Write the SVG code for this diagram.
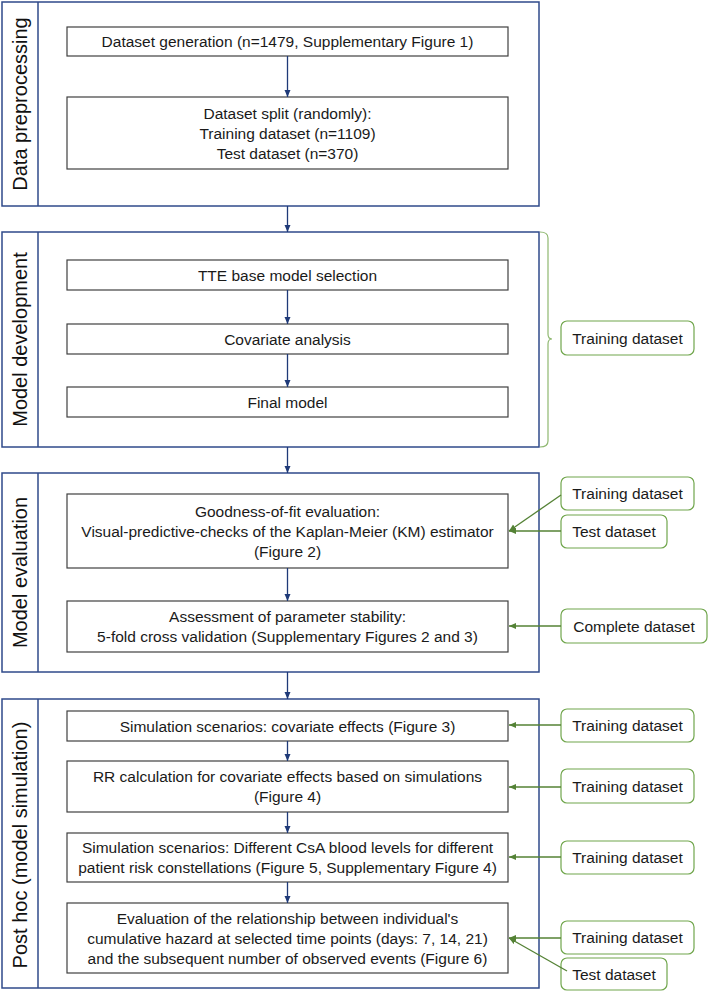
<svg xmlns="http://www.w3.org/2000/svg" width="709" height="992" viewBox="0 0 709 992">
<defs>
<marker id="ab" markerUnits="userSpaceOnUse" markerWidth="8" markerHeight="8" refX="7" refY="4" orient="auto"><path d="M0,1 L7,4 L0,7 z" fill="#1f3a78"/></marker>
<marker id="ag" markerUnits="userSpaceOnUse" markerWidth="8" markerHeight="8" refX="7" refY="4" orient="auto"><path d="M0,1 L7,4 L0,7 z" fill="#548235"/></marker>
</defs>
<style>
.sec{fill:none;stroke:#2f4a8a;stroke-width:1.5}
.box{fill:#fff;stroke:#404040;stroke-width:1.2}
.gbox{fill:#fff;stroke:#70a64c;stroke-width:1.2}
.t{font-family:"Liberation Sans",Arial,sans-serif;font-size:15.5px;fill:#1a1a1a;text-anchor:middle}
.lab{font-family:"Liberation Sans",Arial,sans-serif;font-size:20px;fill:#111;text-anchor:middle}
.ba{stroke:#1f3a78;stroke-width:1.3;fill:none;marker-end:url(#ab)}
.ga{stroke:#548235;stroke-width:1.3;fill:none;marker-end:url(#ag)}
</style>
<rect width="709" height="992" fill="#fff"/>

<g id="sec-preprocessing">
<rect class="sec" x="2" y="2" width="537" height="204"/>
<line class="sec" x1="38" y1="2" x2="38" y2="206"/>
<text class="lab" transform="translate(27,104) rotate(-90)">Data preprocessing</text>
</g>
<g id="n-generation">
<rect class="box" x="67" y="27" width="441" height="29"/>
<text class="t" x="287.5" y="47">Dataset generation (n=1479, Supplementary Figure 1)</text>
</g>
<g id="n-split">
<rect class="box" x="67" y="97" width="441" height="72"/>
<text class="t" x="287.5" y="118.5">Dataset split (randomly):</text>
<text class="t" x="287.5" y="138.5">Training dataset (n=1109)</text>
<text class="t" x="287.5" y="158.5">Test dataset (n=370)</text>
</g>

<g id="sec-development">
<rect class="sec" x="2" y="232" width="537" height="215"/>
<line class="sec" x1="38" y1="232" x2="38" y2="447"/>
<text class="lab" transform="translate(27,339.5) rotate(-90)">Model development</text>
</g>
<g id="n-tte">
<rect class="box" x="67" y="260" width="441" height="30"/>
<text class="t" x="287.5" y="280.5">TTE base model selection</text>
</g>
<g id="n-covariate">
<rect class="box" x="67" y="324" width="441" height="30"/>
<text class="t" x="287.5" y="344.5">Covariate analysis</text>
</g>
<g id="n-final">
<rect class="box" x="67" y="387" width="441" height="30"/>
<text class="t" x="287.5" y="407.5">Final model</text>
</g>

<g id="sec-evaluation">
<rect class="sec" x="2" y="473" width="537" height="199"/>
<line class="sec" x1="38" y1="473" x2="38" y2="672"/>
<text class="lab" transform="translate(27,572.5) rotate(-90)">Model evaluation</text>
</g>
<g id="n-gof">
<rect class="box" x="67" y="494" width="441" height="74"/>
<text class="t" x="287.5" y="516.5">Goodness-of-fit evaluation:</text>
<text class="t" x="287.5" y="536.5">Visual-predictive-checks of the Kaplan-Meier (KM) estimator</text>
<text class="t" x="287.5" y="556.5">(Figure 2)</text>
</g>
<g id="n-stability">
<rect class="box" x="67" y="601" width="441" height="51"/>
<text class="t" x="287.5" y="622">Assessment of parameter stability:</text>
<text class="t" x="287.5" y="642">5-fold cross validation (Supplementary Figures 2 and 3)</text>
</g>

<g id="sec-posthoc">
<rect class="sec" x="2" y="699" width="537" height="289"/>
<line class="sec" x1="38" y1="699" x2="38" y2="988"/>
<text class="lab" transform="translate(27,845) rotate(-90)">Post hoc (model simulation)</text>
</g>
<g id="n-sim1">
<rect class="box" x="67" y="711" width="441" height="30"/>
<text class="t" x="287.5" y="731.5">Simulation scenarios: covariate effects (Figure 3)</text>
</g>
<g id="n-rr">
<rect class="box" x="67" y="761" width="441" height="51"/>
<text class="t" x="287.5" y="782">RR calculation for covariate effects based on simulations</text>
<text class="t" x="287.5" y="802">(Figure 4)</text>
</g>
<g id="n-sim2">
<rect class="box" x="67" y="833" width="441" height="49"/>
<text class="t" x="287.5" y="853">Simulation scenarios: Different CsA blood levels for different</text>
<text class="t" x="287.5" y="873">patient risk constellations (Figure 5, Supplementary Figure 4)</text>
</g>
<g id="n-eval">
<rect class="box" x="67" y="903" width="441" height="70"/>
<text class="t" x="287.5" y="923.5">Evaluation of the relationship between individual's</text>
<text class="t" x="287.5" y="943.5">cumulative hazard at selected time points (days: 7, 14, 21)</text>
<text class="t" x="287.5" y="963.5">and the subsequent number of observed events (Figure 6)</text>
</g>

<g id="d-train-dev">
<rect class="gbox" x="561" y="321" width="133" height="34" rx="6"/>
<text class="t" x="627.5" y="343.5">Training dataset</text>
</g>
<g id="d-train-gof">
<rect class="gbox" x="561" y="477" width="133" height="33" rx="6"/>
<text class="t" x="627.5" y="499">Training dataset</text>
</g>
<g id="d-test-gof">
<rect class="gbox" x="561" y="515" width="106" height="33" rx="6"/>
<text class="t" x="614" y="537">Test dataset</text>
</g>
<g id="d-complete">
<rect class="gbox" x="561" y="609" width="146" height="34" rx="6"/>
<text class="t" x="634" y="631.5">Complete dataset</text>
</g>
<g id="d-train-sim1">
<rect class="gbox" x="561" y="709" width="133" height="33" rx="6"/>
<text class="t" x="627.5" y="731">Training dataset</text>
</g>
<g id="d-train-rr">
<rect class="gbox" x="561" y="769" width="133" height="34" rx="6"/>
<text class="t" x="627.5" y="791.5">Training dataset</text>
</g>
<g id="d-train-sim2">
<rect class="gbox" x="561" y="841" width="133" height="33" rx="6"/>
<text class="t" x="627.5" y="863">Training dataset</text>
</g>
<g id="d-train-eval">
<rect class="gbox" x="561" y="921" width="133" height="33" rx="6"/>
<text class="t" x="627.5" y="943">Training dataset</text>
</g>
<g id="d-test-eval">
<rect class="gbox" x="561" y="958" width="106" height="32" rx="6"/>
<text class="t" x="614" y="979.5">Test dataset</text>
</g>

<g id="connectors">
<line class="ba" x1="287.5" y1="56" x2="287.5" y2="97"/>
<line class="ba" x1="287.5" y1="206" x2="287.5" y2="232"/>
<line class="ba" x1="287.5" y1="290" x2="287.5" y2="324"/>
<line class="ba" x1="287.5" y1="354" x2="287.5" y2="387"/>
<line class="ba" x1="287.5" y1="447" x2="287.5" y2="473"/>
<line class="ba" x1="287.5" y1="568" x2="287.5" y2="601"/>
<line class="ba" x1="287.5" y1="672" x2="287.5" y2="699"/>
<line class="ba" x1="287.5" y1="741" x2="287.5" y2="761"/>
<line class="ba" x1="287.5" y1="812" x2="287.5" y2="833"/>
<line class="ba" x1="287.5" y1="882" x2="287.5" y2="903"/>
<path d="M540,232 Q548,232 548,238 L548,334 Q548,339 552,339 Q548,339 548,344 L548,441 Q548,447 540,447" fill="none" stroke="#8fb870" stroke-width="1.2"/>
<line class="ga" x1="561" y1="495" x2="509" y2="531"/>
<line class="ga" x1="561" y1="531" x2="509" y2="531"/>
<line class="ga" x1="561" y1="626" x2="509" y2="626"/>
<line class="ga" x1="561" y1="725" x2="509" y2="725"/>
<line class="ga" x1="561" y1="787" x2="509" y2="787"/>
<line class="ga" x1="561" y1="857" x2="509" y2="857"/>
<line class="ga" x1="561" y1="938" x2="509" y2="938"/>
<line class="ga" x1="567" y1="971" x2="509" y2="938"/>
</g>
</svg>
